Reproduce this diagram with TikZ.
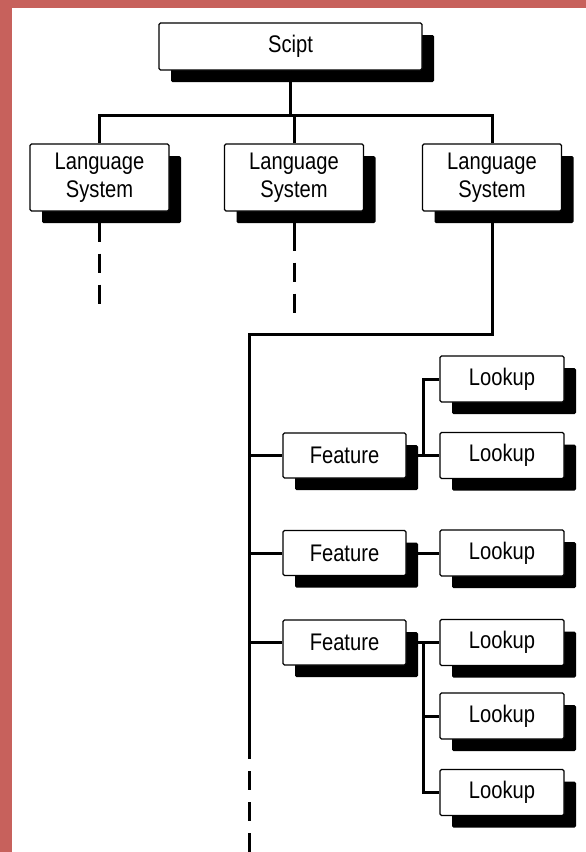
\documentclass[tikz,border=0pt]{standalone}
\usepackage{fontspec}
\newfontfamily\boxfont[FakeStretch=0.84]{Liberation Sans}
\usetikzlibrary{shadows}
\definecolor{frame}{RGB}{199,97,92}

\begin{document}
\begin{tikzpicture}[x=1pt, y=-1pt,
  box/.style={draw, fill=white, line width=1.3pt, rounded corners=1.5pt, inner sep=0pt, align=center,
    font=\boxfont\fontsize{24}{28}\selectfont,
    drop shadow={shadow xshift=12pt, shadow yshift=-12pt, fill=black, opacity=1}},
  link/.style={line width=3pt},
  tail/.style={link, dash pattern=on 19pt off 12pt, dash phase=19pt}]
  % Page and red margin
  \useasboundingbox (0,0) rectangle (586,852);
  \fill[white] (0,0) rectangle (586,852);
  \fill[frame] (0,0) rectangle (586,8);
  \fill[frame] (0,0) rectangle (12,852);

  % The script and its language systems
  \node[box, minimum width=263pt, minimum height=47pt] (script) at (290.5,46.5) {Scipt};
  \foreach \name/\x in {ls1/99.5, ls2/294, ls3/492}
    \node[box, minimum width=139pt, minimum height=67pt] (\name) at (\x,177.5) {Language\\System};

  % Features
  \foreach \name/\y in {f1/455.5, f2/553, f3/642.5}
    \node[box, minimum width=123pt, minimum height=45pt] (\name) at (344.5,\y) {Feature};

  % Lookups
  \foreach \name/\y in {l1/379, l2/455.5, l3/553, l4/642.5, l5/716, l6/792.5}
    \node[box, minimum width=124pt, minimum height=46pt] (\name) at (502,\y) {Lookup};

  % Script down to the systems
  \coordinate (bus) at (290.5,115);
  \coordinate (trunk) at (249,334);
  \draw[link] (script.south) -- (bus);
  \draw[link] (ls1.north) |- (bus) -| (ls3.north);
  \draw[link] (ls2.north) -- (ls2.north |- bus);

  % Tails of the first two systems
  \draw[link] (ls1.south) -- ++(0,30) coordinate (ls1tail);
  \draw[tail] (ls1tail) -- ++(0,62);
  \draw[link] (ls2.south) -- ++(0,39) coordinate (ls2tail);
  \draw[tail] (ls2tail) -- ++(0,62);

  % Trunk of the third system
  \draw[link] (ls3.south) |- (trunk) -- ++(0,425) coordinate (trunktail);
  \draw[tail] (trunktail) -- ++(0,93);
  \foreach \name in {f1,f2,f3}
    \draw[link] (trunk |- \name.west) -- (\name.west);

  % Features to lookups
  \coordinate (fork1) at (423,455.5);
  \coordinate (fork3) at (423,642.5);
  \draw[link] (f1.east) -- (l2.west);
  \draw[link] (l1.west) -| (fork1);
  \draw[link] (f2.east) -- (l3.west);
  \draw[link] (f3.east) -- (l4.west);
  \draw[link] (l6.west) -| (fork3);
  \draw[link] (l5.west) -- (l5.west -| fork3);
\end{tikzpicture}
\end{document}
